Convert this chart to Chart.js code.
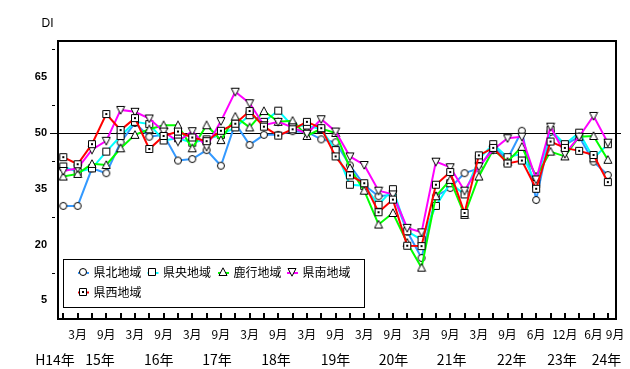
<!DOCTYPE html>
<html><head><meta charset="utf-8">
<script src="https://cdn.jsdelivr.net/npm/chart.js@4"></script>
<style>html,body{margin:0;padding:0;background:#fff}</style>
</head><body>
<canvas id="c" width="630" height="369"></canvas>
<script>
// ---- data ----
const categories = ['H14.12','H15.3','H15.6','H15.9','H15.12','H16.3','H16.6','H16.9','H16.12','H17.3','H17.6','H17.9','H17.12','H18.3','H18.6','H18.9','H18.12','H19.3','H19.6','H19.9','H19.12','H20.3','H20.6','H20.9','H20.12','H21.3','H21.6','H21.9','H21.12','H22.3','H22.6','H22.9','H22.12','H23.6','H23.9','H23.12','H24.3','H24.6','H24.9'];
const monthTickLabels = ['','3月','','9月','','3月','','9月','','3月','','9月','','3月','','9月','','3月','','9月','','3月','','9月','','3月','','9月','','3月','','9月','','6月','','12月','','6月','9月'];
const yearLabels = ['H14年','15年','16年','17年','18年','19年','20年','21年','22年','23年','24年'];
const yearLabelIndex = [-0.58, 2.56, 6.66, 10.73, 14.84, 19.0, 23.04, 27.1, 31.3, 34.8, 37.9];
const yTickValues = [5, 12.5, 20, 27.5, 35, 42.5, 50, 57.5, 65, 72.5];
const yTickLabels = ['5', '', '20', '', '35', '', '50', '', '65', ''];
const seriesNames = ['県北地域','県央地域','鹿行地域','県南地域','県西地域'];

const kenpoku = [30.4,30.4,40.5,39.2,47.5,52.7,49.0,49.5,42.6,43.0,45.4,41.2,52.6,46.8,49.5,49.5,50.5,50.3,48.3,47.5,41.3,36.0,33.0,33.4,23.5,16.4,33.0,35.2,39.2,40.5,46.3,43.0,50.6,32.0,50.3,46.8,49.0,42.3,38.7];
const kenou   = [41.0,39.5,40.5,45.0,49.2,53.0,52.4,48.0,48.6,47.4,48.3,49.5,51.5,54.8,53.0,56.0,51.9,52.0,51.0,45.4,36.1,35.8,30.7,34.9,23.6,21.3,30.4,36.5,33.5,43.0,47.0,43.5,44.4,36.3,50.8,47.0,50.1,43.2,47.0];
const rokko   = [38.3,39.0,41.7,41.4,45.9,49.5,51.0,52.1,52.1,45.9,52.1,48.1,54.4,51.5,55.9,53.0,53.3,49.2,51.2,50.0,40.6,34.5,25.4,28.5,20.5,13.8,33.0,37.4,28.0,38.3,45.5,42.3,46.3,38.3,45.0,43.7,49.0,49.2,42.8];
const kennan  = [39.8,40.5,45.5,47.9,56.2,55.7,53.9,50.4,47.7,50.5,46.3,53.2,61.1,58.0,52.1,53.0,51.5,49.8,53.7,50.4,43.7,41.4,34.5,33.5,24.5,23.3,42.3,40.8,34.5,41.0,45.5,48.6,49.0,37.5,51.7,44.4,49.0,54.6,47.4];
const kensei  = [43.5,41.6,47.0,55.1,50.8,54.0,45.7,49.2,50.4,48.8,47.8,50.6,52.5,55.9,51.7,49.3,51.0,53.0,51.3,43.7,38.6,36.5,28.7,32.1,19.7,19.6,36.1,39.5,28.5,44.0,46.0,41.8,42.6,35.0,47.7,46.0,45.2,44.1,36.8];

// ---- styles ----
const colors = ['#3399FF','#00FFFF','#00FF00','#FF00FF','#FF0000'];
function makeMarker(kind){
  const c=document.createElement('canvas'); c.width=10; c.height=10;
  const g=c.getContext('2d'); g.fillStyle='#fff'; g.strokeStyle='#000'; g.lineWidth=1;
  g.beginPath();
  if(kind==='circle'){ g.arc(5,5,3.5,0,Math.PI*2); }
  else if(kind==='square'||kind==='dot'){ g.rect(1.5,1.5,7,7); }
  else if(kind==='tri'){ g.moveTo(5,0.8); g.lineTo(9,8.5); g.lineTo(1,8.5); g.closePath(); }
  else if(kind==='inv'){ g.moveTo(1,1.5); g.lineTo(9,1.5); g.lineTo(5,9.2); g.closePath(); }
  g.fill(); g.stroke();
  if(kind==='dot'){ g.fillStyle='#000'; g.fillRect(4,4,2,2); }
  return c;
}
const markers = [makeMarker('circle'),makeMarker('square'),makeMarker('tri'),makeMarker('inv'),makeMarker('dot')];
const allSeries = [kenpoku,kenou,rokko,kennan,kensei];

const datasets = allSeries.map((arr,k)=>({
  label: seriesNames[k],
  data: arr.map((v,i)=>({x:i,y:v})),
  borderColor: colors[k],
  borderWidth: 2,
  pointStyle: markers[k],
  pointRadius: 4,
  tension: 0,
  clip: false,
  order: 5-k
}));

const decor = {
  id:'decor',
  beforeDatasetsDraw(chart){
    const ctx=chart.ctx, y=chart.scales.y;
    const py=Math.round(y.getPixelForValue(50))+0.5;
    ctx.save(); ctx.strokeStyle='#000'; ctx.lineWidth=1;
    ctx.beginPath(); ctx.moveTo(50,py); ctx.lineTo(621,py); ctx.stroke(); ctx.restore();
  },
  afterDraw(chart){
    const ctx=chart.ctx, xs=chart.scales.x, ys=chart.scales.y;
    ctx.save();
    // frame
    ctx.strokeStyle='#000'; ctx.lineWidth=2;
    ctx.strokeRect(58,41,558,278);
    // x ticks
    ctx.fillStyle='#000';
    for(let i=0;i<categories.length;i++){
      const px=Math.round(xs.getPixelForValue(i));
      ctx.fillRect(px-1,313,2,6);
    }
    // y ticks
    ctx.font='bold 11px "Liberation Sans", Arial, sans-serif';
    ctx.textAlign='right'; ctx.textBaseline='middle';
    yTickValues.forEach((v,k)=>{
      const py=Math.round(ys.getPixelForValue(v));
      if(yTickLabels[k]) ctx.fillText(yTickLabels[k],47,py);
      else ctx.fillRect(52,py,3,1);
    });
    // DI
    ctx.font='12px "Liberation Sans", Arial, sans-serif';
    ctx.textAlign='left';
    ctx.fillText('DI',41.5,24);
    // month labels
    ctx.font='12px "Noto Sans CJK JP", sans-serif';
    ctx.textAlign='center';
    let prevRight=-1e9;
    monthTickLabels.forEach((lab,i)=>{
      if(!lab) return;
      let px=xs.getPixelForValue(i);
      const w=ctx.measureText(lab).width;
      if(px-w/2 < prevRight+3) px=prevRight+3+w/2;
      ctx.fillText(lab,px,334);
      prevRight=px+w/2;
    });
    // year labels
    ctx.font='14px "Noto Sans CJK JP", sans-serif';
    const p0=xs.getPixelForValue(0), step=xs.getPixelForValue(1)-p0;
    yearLabels.forEach((lab,k)=>{
      ctx.fillText(lab,p0+yearLabelIndex[k]*step,360);
    });
    // legend
    ctx.lineWidth=1; ctx.strokeStyle='#000';
    ctx.strokeRect(63.5,259.5,301,48);
    const pos=[[78,272],[147.5,272],[218,272],[287,272],[78,291.5]];
    ctx.font='12px "Noto Sans CJK JP", sans-serif';
    ctx.textAlign='left';
    seriesNames.forEach((n,k)=>{
      const [lx,ly]=pos[k];
      ctx.strokeStyle=colors[k]; ctx.lineWidth=2;
      ctx.beginPath(); ctx.moveTo(lx,ly+1); ctx.lineTo(lx+11,ly+1); ctx.stroke();
      ctx.drawImage(markers[k],Math.round(lx+4.5-5),Math.round(ly-5));
      ctx.fillStyle='#000';
      ctx.fillText(n,lx+15.5,ly+0.5);
    });
    ctx.restore();
  }
};

new Chart(document.getElementById('c'),{
  type:'line',
  data:{datasets},
  options:{
    responsive:false, animation:false, devicePixelRatio:1,
    layout:{padding:{left:57,top:40,right:14,bottom:50}},
    plugins:{legend:{display:false},tooltip:{enabled:false}},
    scales:{
      x:{type:'linear',display:false,min:-0.44,max:38.57},
      y:{type:'linear',display:false,min:0,max:75}
    }
  },
  plugins:[decor]
});
</script>
</body></html>
